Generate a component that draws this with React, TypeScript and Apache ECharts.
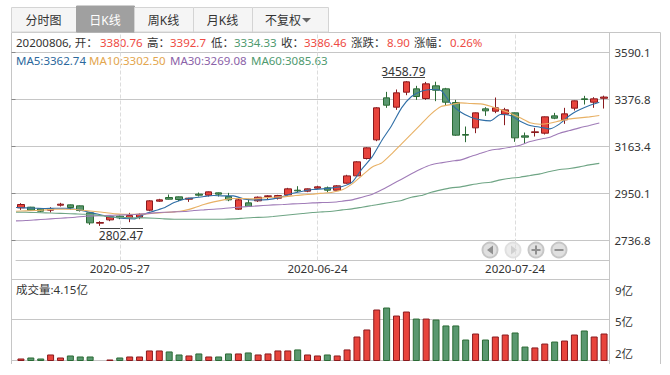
import React, { useEffect, useRef } from "react";
import * as echarts from "echarts";

const dates = [
  "2020-05-13","2020-05-14","2020-05-15","2020-05-18","2020-05-19","2020-05-20","2020-05-21","2020-05-22","2020-05-25","2020-05-26",
  "2020-05-27","2020-05-28","2020-05-29","2020-06-01","2020-06-02","2020-06-03","2020-06-04","2020-06-05","2020-06-08","2020-06-09",
  "2020-06-10","2020-06-11","2020-06-12","2020-06-15","2020-06-16","2020-06-17","2020-06-18","2020-06-19","2020-06-22","2020-06-23",
  "2020-06-24","2020-06-29","2020-06-30","2020-07-01","2020-07-02","2020-07-03","2020-07-06","2020-07-07","2020-07-08","2020-07-09",
  "2020-07-10","2020-07-13","2020-07-14","2020-07-15","2020-07-16","2020-07-17","2020-07-20","2020-07-21","2020-07-22","2020-07-23",
  "2020-07-24","2020-07-27","2020-07-28","2020-07-29","2020-07-30","2020-07-31","2020-08-03","2020-08-04","2020-08-05","2020-08-06",
];
const dateLabels = ["2020-05-27", "2020-06-24", "2020-07-24"];

// open, close, low, high
const ohlc = [
  [2884.1,2899.3,2875,2905.3],[2887.2,2873.6,2872,2888.7],[2879.6,2869,2864.5,2882.6],[2873.6,2878.1,2863,2887.2],[2896.2,2900.8,2890.2,2906.8],
  [2897.7,2885.6,2875,2899.3],[2893.2,2872,2867.5,2894.7],[2861.5,2816.1,2807,2864.5],[2814.6,2817.7,2802.47,2823.7],[2829.7,2843.3,2823.7,2847.9],
  [2846.4,2838.8,2832.8,2849.4],[2838.8,2849.4,2819.2,2861.5],[2841.8,2854,2832.8,2860],[2873.6,2915.9,2869,2918.9],[2914.4,2920.4,2911.3,2925],
  [2931,2923.4,2921.9,2944.6],[2934,2921.9,2914.4,2935.5],[2923.4,2928,2911.3,2929.5],[2946.1,2941.6,2935.5,2953.6],[2941.6,2956.7,2935.5,2958.2],
  [2952.1,2946.1,2935.5,2953.6],[2935.5,2920.4,2914.4,2952.1],[2878.1,2920.4,2875,2926.4],[2906.8,2890.2,2888.7,2925],[2915.9,2932.5,2911.3,2935.5],
  [2935.5,2938.5,2921.9,2941.6],[2928,2940,2921.9,2943.1],[2943.1,2970.3,2940,2974.8],[2964.2,2961.2,2955.2,2982.3],[2959.7,2970.3,2955.2,2971.8],
  [2973.3,2979.3,2970.3,2983.9],[2974.8,2964.2,2955.2,2980.8],[2964.2,2983.9,2962.7,2986.9],[2996,3029,2993,3034],[3029.2,3092.7,3026.2,3095.7],
  [3107.8,3156.1,3103.2,3159.1],[3192.4,3337.5,3186.4,3340.5],[3382.8,3349.5,3337.5,3410],[3340.5,3405.5,3328.4,3420.6],[3408.5,3455.3,3394.9,3458.79],
  [3423.6,3388.8,3373.7,3437.2],[3379.8,3446.3,3373.7,3455],[3437.2,3417.5,3367.7,3456],[3423.6,3363.1,3346.5,3428.1],[3361.6,3213.6,3210.5,3373.7],
  [3216.6,3213.6,3181.8,3252.8],[3246.8,3314.8,3222.6,3316.3],[3332.9,3323.9,3301.2,3340.5],[3322.3,3337.5,3313.3,3384.3],[3308.8,3328.4,3258.9,3337.5],
  [3314.8,3201.5,3183.3,3316.3],[3210.5,3204.5,3174.3,3225.6],[3225.6,3228.7,3207.5,3246.8],[3222.6,3296.7,3216.6,3298.2],[3301.2,3290.6,3286.1,3314.8],
  [3283.1,3310.3,3265,3337.5],[3336,3369.2,3325.4,3370.7],[3378.3,3375.2,3352.6,3391.9],[3363.1,3378.3,3337.5,3385.8],[3380.76,3386.46,3334.33,3392.7],
];

const ma5 = [2885.6,2884.1,2882.6,2881.1,2882.6,2882.6,2878.1,2869,2858.4,2847.9,2841.8,2835.8,2834.3,2855.4,2870.5,2884.1,2908.3,2923.4,2929.5,2935.5,2940,2938.5,2938.5,2925,2920.4,2920.4,2925,2935.5,2950.6,2959.7,2967.2,2970.3,2974.8,2980.9,3000.5,3061,3113.8,3189.4,3257.4,3337.5,3388.8,3413,3420.6,3416,3355.6,3317.8,3295.2,3283.1,3278.5,3307.2,3302.7,3277,3257.4,3249.8,3242.3,3265,3302.7,3328.4,3348.1,3362.74];
const ma10 = [2869,2870.5,2872,2875,2878.1,2878.1,2876.6,2872,2867.5,2863,2856.9,2855.4,2855.4,2856.9,2860,2863,2866,2872,2884.1,2899.3,2911.3,2920.4,2926.4,2926.4,2925,2929.5,2932.5,2934,2938.5,2943.1,2946.1,2950.6,2955.2,2965.8,2992.9,3030.7,3068.5,3088.1,3128.9,3174.3,3219.6,3265,3310.3,3343.5,3352.6,3360.1,3357.1,3355.6,3345,3329.9,3313.3,3292.1,3269.5,3263.4,3268,3278.5,3287.6,3292.1,3296.7,3302.5];
const ma30 = [2825.2,2826.7,2829.7,2832.8,2835.8,2838.8,2841.8,2846.4,2847.9,2849.4,2850.9,2852.4,2853.9,2856.9,2861.5,2864.5,2866,2867.5,2872,2875,2878.1,2881.1,2885.6,2888.7,2891.7,2894.7,2897.7,2899.3,2902.3,2903.8,2906.8,2908.3,2909.8,2914.4,2920.4,2932.5,2944.6,2965.8,2989.9,3014.1,3038.3,3061,3079.1,3088.1,3095.7,3101.7,3116.9,3132,3145.6,3151.6,3159.2,3168.2,3184.8,3195.4,3204.5,3222.6,3234.7,3246.8,3257.4,3269.08];
const ma60 = [2864.5,2864.5,2863,2861.5,2860,2858.4,2856.9,2855.4,2852.4,2846.4,2841.8,2840.3,2838.8,2838.8,2837.3,2834.3,2832.8,2832.8,2832.8,2832.8,2832.8,2832.8,2834.3,2837.3,2840.3,2841.8,2844.9,2849.4,2853.9,2858.4,2863,2866,2869,2875.1,2879.6,2887.2,2894.7,2902.3,2909.9,2917.4,2932.5,2940,2955.2,2965.8,2974.8,2979.3,2988.4,2996,3000.5,3011.1,3018.6,3023.2,3030.7,3038.3,3048.9,3057.9,3062.5,3070,3079.1,3085.63];

// 亿
const volumes = [2.16,2.24,2.16,2.48,2.24,2.4,2.32,2.32,2.03,2.08,2.24,2.32,2.32,2.8,2.8,2.72,2.48,2.4,2.56,2.32,2.32,2.56,2.56,2.64,2.48,2.56,2.8,2.8,2.88,2.48,2.4,2.48,2.4,2.88,3.91,4.47,6.06,6.22,5.58,5.9,5.34,5.34,5.26,4.79,4.79,3.67,4.15,3.67,3.91,4.07,4.23,3.11,3.04,3.35,3.51,3.59,4.07,4.39,3.91,4.15];

const priceTicks = [2736.8, 2950.1, 3163.4, 3376.8, 3590.1];
const priceMin = 2645.5;
const priceMax = 3679;
const volMin = 2;
const volMax = 8.45;
const volLines = [2, 5.26, 8.45];
const volLabels: [string, number][] = [["2亿", 353], ["5亿", 321], ["9亿", 290]];

const tabs = ["分时图", "日K线", "周K线", "月K线", "不复权"];

const RED = "#e8443c";
const RED_DARK = "#8a1a1e";
const GREEN = "#5a9870";
const GREEN_DARK = "#2a6a34";
const TXT_RED = "#ee4b43";
const TXT_GREEN = "#4f9a6f";
const LINE = "#c6c6c6";
const FONT = '"Noto Sans", "Noto Sans CJK SC", sans-serif';
const FS = 11.5;

const headerRuns: [string, number, string][] = [
  ["20200806, 开：", 16, "#333"],
  ["3380.76", 100, TXT_RED],
  ["高：", 147, "#333"],
  ["3392.7", 170, TXT_RED],
  ["低：", 211, "#333"],
  ["3334.33", 234, TXT_GREEN],
  ["收：", 281, "#333"],
  ["3386.46", 304, TXT_RED],
  ["涨跌：", 351, "#333"],
  ["8.90", 387, TXT_RED],
  ["涨幅：", 414, "#333"],
  ["0.26%", 450, TXT_RED],
];
const maRuns: [string, number, string][] = [
  ["MA5:3362.74", 16, "#2b689c"],
  ["MA10:3302.50", 89, "#e3a64e"],
  ["MA30:3269.08", 170, "#8b62a8"],
  ["MA60:3085.63", 251, "#4f9a6f"],
];

const txt = (text: string, x: number, y: number, fill = "#333", extra: any = {}) => ({
  type: "text",
  x,
  y,
  silent: true,
  style: { text, fill, font: `${FS}px ${FONT}`, textVerticalAlign: "middle", verticalAlign: "middle", ...extra },
});
const ln = (x1: number, y1: number, x2: number, y2: number, stroke = LINE) => ({
  type: "line",
  silent: true,
  shape: { x1, y1, x2, y2 },
  style: { stroke, lineWidth: 1 },
});

function buildGraphic() {
  const g: any[] = [];
  // frame
  g.push(ln(11.5, 32.5, 660.5, 32.5));
  g.push(ln(11.5, 32.5, 11.5, 364));
  g.push(ln(609.5, 32.5, 609.5, 364));
  g.push(ln(660.5, 32.5, 660.5, 364));
  g.push(ln(11.5, 279.5, 609.5, 279.5));
  // tabs
  const edges = [11, 76, 134, 193, 252, 328];
  tabs.forEach((t, i) => {
    const sel = i === 1;
    g.push({
      type: "rect",
      silent: true,
      shape: { x: edges[i] + 0.5, y: sel ? 6 : 7.5, width: edges[i + 1] - edges[i], height: sel ? 26 : 24.5 },
      style: { fill: sel ? "#a0a0a0" : "#f5f5f5", stroke: sel ? "#a0a0a0" : "#d4d4d4", lineWidth: 1 },
    });
    const cx = i === 4 ? edges[i] + 31 : (edges[i] + edges[i + 1]) / 2;
    g.push(txt(t, cx, 20, sel ? "#fff" : "#333", { textAlign: "center", align: "center", font: `12px ${FONT}` }));
  });
  g.push({
    type: "polygon",
    silent: true,
    shape: { points: [[302, 18], [311, 18], [306.5, 22.5]] },
    style: { fill: "#666" },
  });
  headerRuns.forEach(([t, x, c]) => g.push(txt(t, x, 42.5, c)));
  maRuns.forEach(([t, x, c]) => g.push(txt(t, x, 60, c)));
  g.push(txt("成交量:4.15亿", 16, 289, "#333"));
  volLabels.forEach(([t, y]) => g.push(txt(t, 615, y, "#333")));
  // high / low rules
  g.push(ln(383, 77.5, 425, 77.5, "#444"));
  g.push(ln(100, 228.5, 143, 228.5, "#444"));
  // zoom buttons
  const btn = [490, 513, 536, 559];
  btn.forEach((cx, i) => {
    g.push({
      type: "circle",
      silent: true,
      shape: { cx, cy: 250, r: 7.5 },
      style: { fill: i === 1 ? "#ececec" : "#e0e0e0", stroke: i === 1 ? "#e0e0e0" : "#c6c6c6", lineWidth: 2 },
    });
  });
  g.push({ type: "polygon", silent: true, shape: { points: [[493, 245.5], [493, 254.5], [487, 250]] }, style: { fill: "#909090" } });
  g.push({ type: "polygon", silent: true, shape: { points: [[511, 245.5], [511, 254.5], [517, 250]] }, style: { fill: "#d0d0d0" } });
  g.push({ type: "rect", silent: true, shape: { x: 531.5, y: 249, width: 9, height: 2 }, style: { fill: "#909090" } });
  g.push({ type: "rect", silent: true, shape: { x: 535, y: 245.5, width: 2, height: 9 }, style: { fill: "#909090" } });
  g.push({ type: "rect", silent: true, shape: { x: 554.5, y: 249, width: 9, height: 2 }, style: { fill: "#909090" } });
  return g;
}

const hiddenY = (gridIndex: number, min: number, max: number) => ({
  type: "value", gridIndex, min, max, show: false, splitLine: { show: false },
});
const hiddenCat = (gridIndex: number, boundaryGap: boolean) => ({
  type: "category", gridIndex, data: dates, boundaryGap, show: false,
});

export default function App() {
  const ref = useRef<HTMLDivElement>(null);
  useEffect(() => {
    const chart = echarts.init(ref.current!, undefined, { renderer: "svg" });
    const maSeries = (name: string, data: number[], color: string) => ({
      name,
      type: "line",
      xAxisIndex: 2,
      yAxisIndex: 2,
      data,
      symbol: "none",
      smooth: 0.2,
      lineStyle: { color, width: 1.1 },
      z: 5,
    });
    chart.setOption({
      animation: false,
      backgroundColor: "#fff",
      textStyle: { fontFamily: FONT },
      grid: [
        { left: 11.5, top: 32.5, width: 598, height: 228 },
        { left: 16, top: 32.5, width: 593, height: 228 },
        { left: 16, top: 32.5, width: 583.3, height: 228 },
        { left: 11.5, top: 279.5, width: 598, height: 81 },
        { left: 16, top: 279.5, width: 593, height: 81 },
      ],
      xAxis: [
        { type: "value", gridIndex: 0, min: 0, max: 1, show: false },
        {
          type: "category",
          gridIndex: 1,
          data: dates,
          axisLine: { lineStyle: { color: LINE, width: 1 } },
          axisTick: {
            alignWithLabel: true,
            interval: (_i: number, v: string) => dateLabels.includes(v),
            length: 3,
            lineStyle: { color: LINE },
          },
          axisLabel: {
            interval: (_i: number, v: string) => dateLabels.includes(v),
            color: "#333",
            fontSize: 11.5,
            fontFamily: FONT,
            margin: 2,
            hideOverlap: false,
          },
          splitLine: { show: false },
        },
        hiddenCat(2, false),
        { type: "value", gridIndex: 3, min: 0, max: 1, show: false },
        hiddenCat(4, true),
      ],
      yAxis: [
        {
          type: "value",
          gridIndex: 0,
          position: "right",
          min: priceMin,
          max: priceMax,
          axisLine: { show: false },
          axisTick: { show: true, length: 4, lineStyle: { color: "#888" }, customValues: priceTicks },
          axisLabel: {
            customValues: priceTicks,
            formatter: (v: number) => v.toFixed(1),
            color: "#333",
            fontSize: 11.5,
            fontFamily: FONT,
            margin: 5,
          },
          splitLine: { show: true, lineStyle: { color: LINE, width: 1 } },
        },
        hiddenY(1, priceMin, priceMax),
        hiddenY(2, priceMin, priceMax),
        {
          type: "value",
          gridIndex: 3,
          position: "right",
          min: volMin,
          max: volMax,
          axisLine: { show: false },
          axisTick: { show: false, customValues: volLines },
          axisLabel: { show: false },
          splitLine: { show: true, lineStyle: { color: LINE, width: 1 } },
        },
        hiddenY(4, volMin, volMax),
      ],
      series: [
        {
          type: "candlestick",
          xAxisIndex: 1,
          yAxisIndex: 1,
          data: ohlc,
          barWidth: 7,
          itemStyle: { color: RED, color0: GREEN, borderColor: RED_DARK, borderColor0: GREEN_DARK, borderWidth: 1 },
          z: 4,
          markLine: {
            silent: true,
            symbol: "none",
            animation: false,
            label: { show: false },
            lineStyle: { color: "#dcdcdc", type: "dashed", width: 1 },
            data: dateLabels.map((d) => ({ xAxis: d })),
            z: 1,
          },
          markPoint: {
            silent: true,
            symbol: "circle",
            symbolSize: 1,
            itemStyle: { color: "transparent" },
            data: [
              {
                coord: [dates[39], 3458.79],
                label: { show: true, formatter: "3458.79", position: "inside", color: "#333", fontSize: 12, fontFamily: FONT, offset: [-3, -10] },
              },
              {
                coord: [dates[8], 2802.47],
                label: { show: true, formatter: "2802.47", position: "inside", color: "#333", fontSize: 12, fontFamily: FONT, offset: [21, 10] },
              },
            ],
          },
        },
        maSeries("MA5", ma5, "#2f6ea6"),
        maSeries("MA10", ma10, "#e8b165"),
        maSeries("MA30", ma30, "#a07cb8"),
        maSeries("MA60", ma60, "#6fa585"),
        {
          type: "bar",
          xAxisIndex: 4,
          yAxisIndex: 4,
          barWidth: 7,
          data: volumes.map((v, i) => {
            const up = ohlc[i][1] >= ohlc[i][0];
            return {
              value: v,
              itemStyle: { color: up ? RED : GREEN, borderColor: up ? RED_DARK : GREEN_DARK, borderWidth: 1 },
            };
          }),
        },
      ],
      graphic: buildGraphic(),
    });
    return () => chart.dispose();
  }, []);
  return <div ref={ref} style={{ position: "fixed", left: 0, top: 0, width: 670, height: 375 }} />;
}
